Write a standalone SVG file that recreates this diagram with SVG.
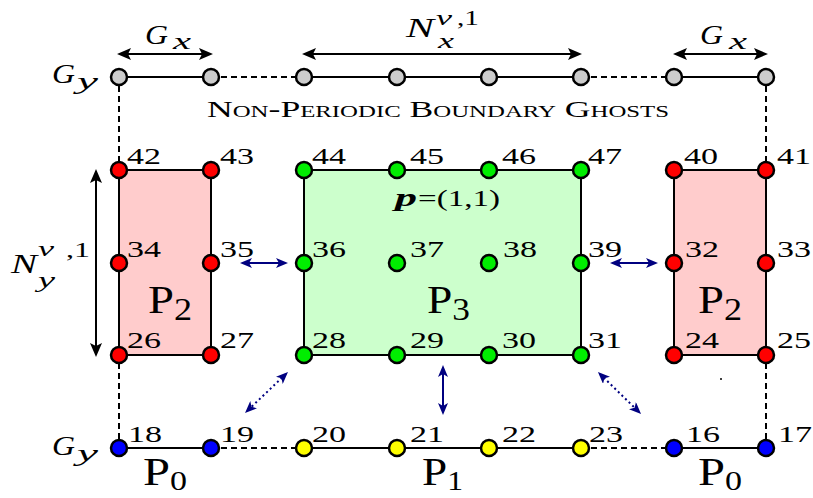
<svg xmlns="http://www.w3.org/2000/svg" width="813" height="498" viewBox="0 0 813 498">
<defs>
<style>
.n circle{stroke:#000;stroke-width:2.5}
.gh{fill:#cccccc}.rd{fill:#ff0000}.gn{fill:#00ee00}.bl{fill:#0000ff}.yl{fill:#ffff00}
.lb{font-family:"Liberation Serif",serif;font-size:24px;fill:#000}
.mi{font-family:"Liberation Serif",serif;font-style:italic;fill:#000}
.mr{font-family:"Liberation Serif",serif;fill:#000}
.pl{font-family:"Liberation Serif",serif;font-size:40px;fill:#000}
.solid{stroke:#000;stroke-width:2;fill:none}
.dash{stroke:#000;stroke-width:2;stroke-dasharray:6 4;fill:none}
.dim{stroke:#000;stroke-width:2;fill:none;marker-start:url(#ah);marker-end:url(#ah)}
.nv{stroke:#000080;stroke-width:2;fill:none;marker-start:url(#nh);marker-end:url(#nh)}
.dot{stroke-dasharray:2 3}
</style>
<marker id="ah" viewBox="0 0 14 12" markerWidth="14" markerHeight="12" refX="10" refY="6" orient="auto-start-reverse" markerUnits="userSpaceOnUse"><path d="M0,0 L14,6 L0,12 L3,6 z" fill="#000"/></marker>
<marker id="nh" viewBox="0 0 12 10" markerWidth="12" markerHeight="10" refX="9" refY="5" orient="auto-start-reverse" markerUnits="userSpaceOnUse"><path d="M0,0 L12,5 L0,10 L3,5 z" fill="#000080"/></marker>
</defs>
<rect width="813" height="498" fill="#fff"/>

<g id="regions">
<rect id="P2-left" x="119" y="170" width="92" height="185" fill="#ffcccc" stroke="#000" stroke-width="2"/>
<rect id="P3" x="304" y="170" width="277" height="185" fill="#ccffcc" stroke="#000" stroke-width="2"/>
<rect id="P2-right" x="674" y="170" width="92" height="185" fill="#ffcccc" stroke="#000" stroke-width="2"/>
</g>

<g id="connectors">
<line class="solid" x1="119" y1="77" x2="211" y2="77"/>
<line class="dash" x1="211" y1="77" x2="304" y2="77"/>
<line class="solid" x1="304" y1="77" x2="581" y2="77"/>
<line class="dash" x1="581" y1="77" x2="674" y2="77"/>
<line class="solid" x1="674" y1="77" x2="766" y2="77"/>
<line class="solid" x1="119" y1="448" x2="211" y2="448"/>
<line class="dash" x1="211" y1="448" x2="304" y2="448"/>
<line class="solid" x1="304" y1="448" x2="581" y2="448"/>
<line class="dash" x1="581" y1="448" x2="674" y2="448"/>
<line class="solid" x1="674" y1="448" x2="766" y2="448"/>
<line class="dash" x1="119" y1="86" x2="119" y2="162"/>
<line class="dash" x1="119" y1="363" x2="119" y2="440"/>
<line class="dash" x1="766" y1="86" x2="766" y2="162"/>
<line class="dash" x1="766" y1="363" x2="766" y2="440"/>
<line class="dim" x1="121" y1="54" x2="209" y2="54"/>
<line class="dim" x1="306" y1="54" x2="578" y2="54"/>
<line class="dim" x1="677" y1="54" x2="764" y2="54"/>
<line class="dim" x1="96" y1="173" x2="96" y2="353"/>
<line class="nv" x1="243" y1="263" x2="285" y2="263"/>
<line class="nv" x1="613" y1="263" x2="655" y2="263"/>
<line class="nv" x1="443" y1="368" x2="443" y2="412"/>
<line class="nv dot" x1="285.8" y1="374.1" x2="247.2" y2="410.9"/>
<line class="nv dot" x1="600.1" y1="374.1" x2="638.9" y2="411.9"/>
</g>

<g id="ghosts-top">
<g id="gt1" class="n"><circle class="gh" cx="119" cy="77" r="8"/></g>
<g id="gt2" class="n"><circle class="gh" cx="211" cy="77" r="8"/></g>
<g id="gt3" class="n"><circle class="gh" cx="304" cy="77" r="8"/></g>
<g id="gt4" class="n"><circle class="gh" cx="397" cy="77" r="8"/></g>
<g id="gt5" class="n"><circle class="gh" cx="489" cy="77" r="8"/></g>
<g id="gt6" class="n"><circle class="gh" cx="581" cy="77" r="8"/></g>
<g id="gt7" class="n"><circle class="gh" cx="674" cy="77" r="8"/></g>
<g id="gt8" class="n"><circle class="gh" cx="766" cy="77" r="8"/></g>
</g>

<g id="n42" class="n"><circle class="rd" cx="119" cy="170" r="8"/><text class="lb" x="127" y="164" textLength="34" lengthAdjust="spacingAndGlyphs">42</text></g>
<g id="n43" class="n"><circle class="rd" cx="211" cy="170" r="8"/><text class="lb" x="220" y="164" textLength="34" lengthAdjust="spacingAndGlyphs">43</text></g>
<g id="n34" class="n"><circle class="rd" cx="119" cy="263" r="8"/><text class="lb" x="127" y="257" textLength="34" lengthAdjust="spacingAndGlyphs">34</text></g>
<g id="n35" class="n"><circle class="rd" cx="211" cy="263" r="8"/><text class="lb" x="220" y="257" textLength="34" lengthAdjust="spacingAndGlyphs">35</text></g>
<g id="n26" class="n"><circle class="rd" cx="119" cy="355" r="8"/><text class="lb" x="127" y="348" textLength="34" lengthAdjust="spacingAndGlyphs">26</text></g>
<g id="n27" class="n"><circle class="rd" cx="211" cy="355" r="8"/><text class="lb" x="220" y="348" textLength="34" lengthAdjust="spacingAndGlyphs">27</text></g>

<g id="n44" class="n"><circle class="gn" cx="304" cy="170" r="8"/><text class="lb" x="312" y="164" textLength="34" lengthAdjust="spacingAndGlyphs">44</text></g>
<g id="n45" class="n"><circle class="gn" cx="397" cy="170" r="8"/><text class="lb" x="410" y="164" textLength="34" lengthAdjust="spacingAndGlyphs">45</text></g>
<g id="n46" class="n"><circle class="gn" cx="489" cy="170" r="8"/><text class="lb" x="502" y="164" textLength="34" lengthAdjust="spacingAndGlyphs">46</text></g>
<g id="n47" class="n"><circle class="gn" cx="581" cy="170" r="8"/><text class="lb" x="588" y="164" textLength="34" lengthAdjust="spacingAndGlyphs">47</text></g>
<g id="n36" class="n"><circle class="gn" cx="304" cy="263" r="8"/><text class="lb" x="312" y="257" textLength="34" lengthAdjust="spacingAndGlyphs">36</text></g>
<g id="n37" class="n"><circle class="gn" cx="397" cy="263" r="8"/><text class="lb" x="410" y="257" textLength="34" lengthAdjust="spacingAndGlyphs">37</text></g>
<g id="n38" class="n"><circle class="gn" cx="489" cy="263" r="8"/><text class="lb" x="503" y="257" textLength="34" lengthAdjust="spacingAndGlyphs">38</text></g>
<g id="n39" class="n"><circle class="gn" cx="581" cy="263" r="8"/><text class="lb" x="588" y="257" textLength="34" lengthAdjust="spacingAndGlyphs">39</text></g>
<g id="n28" class="n"><circle class="gn" cx="304" cy="355" r="8"/><text class="lb" x="312" y="348" textLength="34" lengthAdjust="spacingAndGlyphs">28</text></g>
<g id="n29" class="n"><circle class="gn" cx="397" cy="355" r="8"/><text class="lb" x="410" y="348" textLength="34" lengthAdjust="spacingAndGlyphs">29</text></g>
<g id="n30" class="n"><circle class="gn" cx="489" cy="355" r="8"/><text class="lb" x="502" y="348" textLength="34" lengthAdjust="spacingAndGlyphs">30</text></g>
<g id="n31" class="n"><circle class="gn" cx="581" cy="355" r="8"/><text class="lb" x="588" y="348" textLength="34" lengthAdjust="spacingAndGlyphs">31</text></g>

<g id="n40" class="n"><circle class="rd" cx="674" cy="170" r="8"/><text class="lb" x="684" y="164" textLength="34" lengthAdjust="spacingAndGlyphs">40</text></g>
<g id="n41" class="n"><circle class="rd" cx="766" cy="170" r="8"/><text class="lb" x="777" y="164" textLength="34" lengthAdjust="spacingAndGlyphs">41</text></g>
<g id="n32" class="n"><circle class="rd" cx="674" cy="263" r="8"/><text class="lb" x="685" y="257" textLength="34" lengthAdjust="spacingAndGlyphs">32</text></g>
<g id="n33" class="n"><circle class="rd" cx="766" cy="263" r="8"/><text class="lb" x="777" y="257" textLength="34" lengthAdjust="spacingAndGlyphs">33</text></g>
<g id="n24" class="n"><circle class="rd" cx="674" cy="355" r="8"/><text class="lb" x="685" y="348" textLength="34" lengthAdjust="spacingAndGlyphs">24</text></g>
<g id="n25" class="n"><circle class="rd" cx="766" cy="355" r="8"/><text class="lb" x="777" y="348" textLength="34" lengthAdjust="spacingAndGlyphs">25</text></g>

<g id="n18" class="n"><circle class="bl" cx="119" cy="448" r="8"/><text class="lb" x="128" y="442" textLength="34" lengthAdjust="spacingAndGlyphs">18</text></g>
<g id="n19" class="n"><circle class="bl" cx="211" cy="448" r="8"/><text class="lb" x="220" y="442" textLength="34" lengthAdjust="spacingAndGlyphs">19</text></g>
<g id="n20" class="n"><circle class="yl" cx="304" cy="448" r="8"/><text class="lb" x="312" y="442" textLength="34" lengthAdjust="spacingAndGlyphs">20</text></g>
<g id="n21" class="n"><circle class="yl" cx="397" cy="448" r="8"/><text class="lb" x="410" y="442" textLength="34" lengthAdjust="spacingAndGlyphs">21</text></g>
<g id="n22" class="n"><circle class="yl" cx="489" cy="448" r="8"/><text class="lb" x="502" y="442" textLength="34" lengthAdjust="spacingAndGlyphs">22</text></g>
<g id="n23" class="n"><circle class="yl" cx="581" cy="448" r="8"/><text class="lb" x="589" y="442" textLength="34" lengthAdjust="spacingAndGlyphs">23</text></g>
<g id="n16" class="n"><circle class="bl" cx="674" cy="448" r="8"/><text class="lb" x="686" y="442" textLength="34" lengthAdjust="spacingAndGlyphs">16</text></g>
<g id="n17" class="n"><circle class="bl" cx="766" cy="448" r="8"/><text class="lb" x="778" y="442" textLength="34" lengthAdjust="spacingAndGlyphs">17</text></g>

<g id="labels">
<text class="mr" x="207" y="117" font-size="23" font-variant="small-caps" textLength="462" lengthAdjust="spacingAndGlyphs">Non-Periodic Boundary Ghosts</text>
<text class="mi" x="145" y="44" font-size="27" textLength="23" lengthAdjust="spacingAndGlyphs">G</text>
<text class="mi" x="173" y="49" font-size="23" textLength="18" lengthAdjust="spacingAndGlyphs">x</text>
<text class="mi" x="700" y="44" font-size="27" textLength="23" lengthAdjust="spacingAndGlyphs">G</text>
<text class="mi" x="729" y="49" font-size="23" textLength="18" lengthAdjust="spacingAndGlyphs">x</text>
<text class="mi" x="406" y="37" font-size="27" textLength="28" lengthAdjust="spacingAndGlyphs">N</text>
<text class="mi" x="436" y="25" font-size="22" textLength="16" lengthAdjust="spacingAndGlyphs">v</text>
<text class="mr" x="457" y="25" font-size="22" textLength="22" lengthAdjust="spacingAndGlyphs">,1</text>
<text class="mi" x="438" y="48" font-size="22" textLength="16" lengthAdjust="spacingAndGlyphs">x</text>
<text class="mi" x="11" y="273" font-size="27" textLength="26" lengthAdjust="spacingAndGlyphs">N</text>
<text class="mi" x="38" y="256" font-size="22" textLength="16" lengthAdjust="spacingAndGlyphs">v</text>
<text class="mr" x="66" y="257" font-size="22" textLength="24" lengthAdjust="spacingAndGlyphs">,1</text>
<text class="mi" x="38" y="287" font-size="22" textLength="17" lengthAdjust="spacingAndGlyphs">y</text>
<text class="mi" x="52" y="83" font-size="27" textLength="23" lengthAdjust="spacingAndGlyphs">G</text>
<text class="mi" x="77" y="89" font-size="23" textLength="21" lengthAdjust="spacingAndGlyphs">y</text>
<text class="mi" x="52" y="455" font-size="27" textLength="23" lengthAdjust="spacingAndGlyphs">G</text>
<text class="mi" x="77" y="461" font-size="23" textLength="21" lengthAdjust="spacingAndGlyphs">y</text>
<text class="mi" x="395" y="206" font-size="26" font-weight="bold" textLength="22" lengthAdjust="spacingAndGlyphs">p</text>
<text class="mr" x="418" y="206" font-size="24" textLength="82" lengthAdjust="spacingAndGlyphs">=(1,1)</text>
<text class="pl" x="148" y="313" textLength="44" lengthAdjust="spacingAndGlyphs">P<tspan font-size="31" dy="7">2</tspan></text>
<text class="pl" x="427" y="313" textLength="43" lengthAdjust="spacingAndGlyphs">P<tspan font-size="31" dy="7">3</tspan></text>
<text class="pl" x="698" y="313" textLength="44" lengthAdjust="spacingAndGlyphs">P<tspan font-size="31" dy="7">2</tspan></text>
<text class="pl" x="143" y="485" textLength="44" lengthAdjust="spacingAndGlyphs">P<tspan font-size="28" dy="5">0</tspan></text>
<text class="pl" x="422" y="485" textLength="41" lengthAdjust="spacingAndGlyphs">P<tspan font-size="28" dy="5">1</tspan></text>
<text class="pl" x="698" y="485" textLength="44" lengthAdjust="spacingAndGlyphs">P<tspan font-size="28" dy="5">0</tspan></text>
<circle cx="721" cy="379" r="1" fill="#000"/>
</g>
</svg>
